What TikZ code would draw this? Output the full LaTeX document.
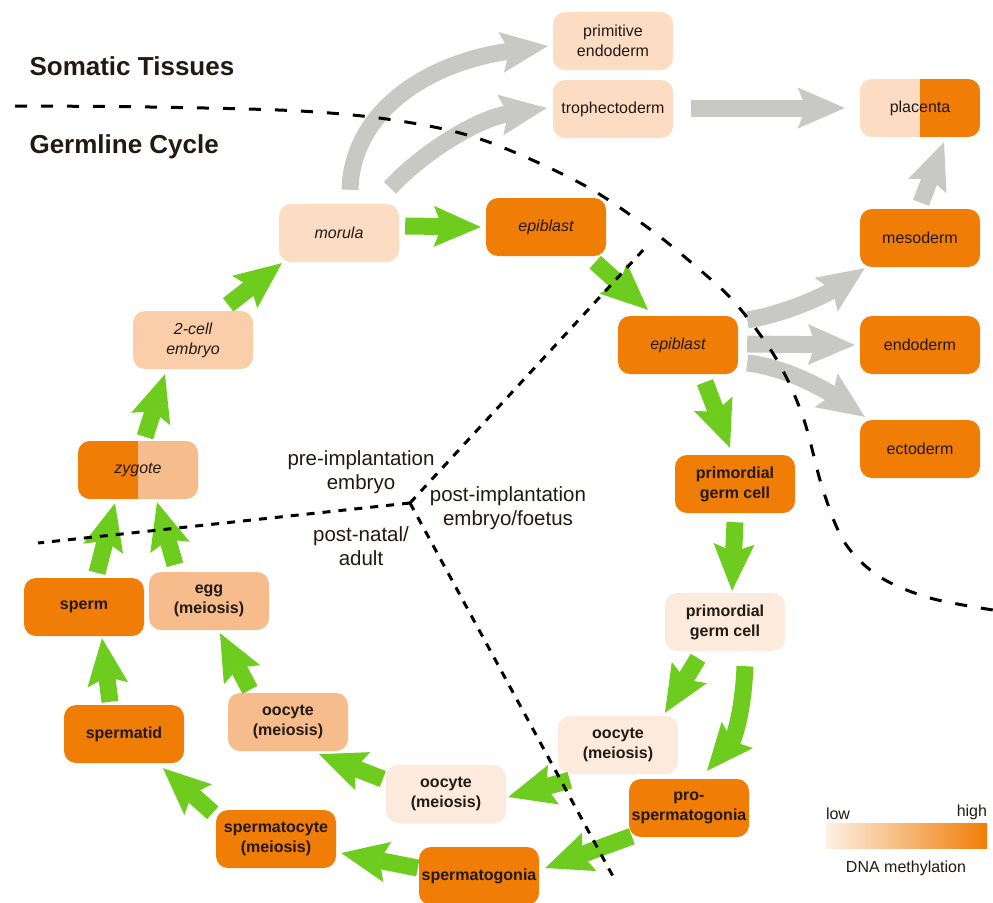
\documentclass[tikz,border=0pt]{standalone}
\usepackage{fontspec}
\setmainfont{Liberation Sans}
\usetikzlibrary{arrows.meta,calc}
\definecolor{orng}{RGB}{240,125,5}
\definecolor{pale}{RGB}{252,221,196}
\definecolor{vpale}{RGB}{252,235,220}
\definecolor{twoc}{RGB}{249,206,168}
\definecolor{med}{RGB}{246,188,140}
\definecolor{grn}{RGB}{110,204,30}
\definecolor{gry}{RGB}{200,201,197}
\definecolor{txt}{RGB}{35,25,20}
\definecolor{lowc}{RGB}{253,240,228}
\definecolor{midc}{RGB}{247,192,145}
\begin{document}
\begin{tikzpicture}[x=1pt,y=-1pt,
  box/.style={rounded corners=12pt, minimum width=120pt, minimum height=58pt, inner sep=1pt, align=center, text=txt, font=\fontsize{16}{20}\selectfont},
  ibox/.style={box, font=\fontsize{16}{20}\selectfont\itshape},
  bbox/.style={box, font=\fontsize{16}{20}\selectfont\bfseries},
  flow/.style={line width=17pt, -{Stealth[length=47pt,width=41pt,inset=8pt,line width=0pt]}},
  gflow/.style={flow, draw=grn},
  sflow/.style={flow, draw=gry},
  bigdash/.style={draw=black, line width=3pt, dash pattern=on 12pt off 14pt},
  smalldash/.style={draw=black, line width=3pt, dash pattern=on 8pt off 8pt},
  lab/.style={align=center, text=txt, font=\fontsize{20.5}{24}\selectfont},
  title/.style={anchor=west, text=txt, font=\fontsize{26}{30}\selectfont\bfseries}
]
\useasboundingbox (0,0) rectangle (993,902);

% titles
\node[title] (soma) at (26,66) {Somatic Tissues};
\node[title] (germ) at (26,147) {Germline Cycle};

% somatic nodes
\node[box, fill=pale] (prim) at (613,41) {primitive\\endoderm};
\node[box, fill=pale] (troph) at (613,109) {trophectoderm};
\node[box, fill=pale, path picture={\fill[orng, sharp corners] (path picture bounding box.north) rectangle (path picture bounding box.south east);}] (plac) at (920,108) {placenta};
\node[box, fill=orng] (meso) at (920,238) {mesoderm};
\node[box, fill=orng] (endo) at (920,345) {endoderm};
\node[box, fill=orng] (ecto) at (920,449) {ectoderm};

% germline nodes
\node[ibox, fill=pale] (mor) at (339,233) {morula};
\node[ibox, fill=orng] (epi1) at (546,227) {epiblast};
\node[ibox, fill=orng] (epi2) at (678,345) {epiblast};
\node[bbox, fill=orng] (pgc1) at (735,484) {primordial\\germ cell};
\node[bbox, fill=vpale] (pgc2) at (725,622) {primordial\\germ cell};
\node[bbox, fill=vpale] (ooR) at (618,745) {oocyte\\(meiosis)};
\node[bbox, fill=orng] (pros) at (689,808) {pro-\\spermatogonia};
\node[bbox, fill=orng] (spg) at (479,876) {spermatogonia};
\node[bbox, fill=vpale] (ooM) at (446,794) {oocyte\\(meiosis)};
\node[bbox, fill=orng] (spc) at (276,839) {spermatocyte\\(meiosis)};
\node[bbox, fill=med] (ooL) at (288,722) {oocyte\\(meiosis)};
\node[bbox, fill=orng] (sptd) at (124,734) {spermatid};
\node[bbox, fill=orng] (sperm) at (84,607) {sperm};
\node[bbox, fill=med] (egg) at (209,601) {egg\\(meiosis)};
\node[ibox, fill=med, path picture={\fill[orng, sharp corners] (path picture bounding box.south west) rectangle (path picture bounding box.north);}] (zyg) at (138,470) {zygote};
\node[ibox, fill=twoc] (two) at (193,340) {2-cell\\embryo};

% region labels
\node[lab] (pre) at (361,472) {pre-implantation\\embryo};
\node[lab] (postn) at (361,546) {post-natal/\\adult};
\node[lab] (posti) at (508,508) {post-implantation\\embryo/foetus};

% legend
\node[inner sep=0pt, minimum width=161pt, minimum height=25pt, left color=lowc, middle color=midc, right color=orng] (leg) at (906.5,835.5) {};
\node[anchor=south west, inner sep=0pt, text=txt, font=\fontsize{16}{20}\selectfont] (low) at (leg.north west) [yshift=3pt] {low};
\node[anchor=south east, inner sep=0pt, text=txt, font=\fontsize{16}{20}\selectfont] (high) at (leg.north east) [yshift=3pt] {high};
\node[text=txt, font=\fontsize{16}{20}\selectfont] (dna) at (906,868) {DNA methylation};

% grey arrows
\draw[sflow] ($(mor.north)+(11,-14)$) .. controls (352,110) and (430,62) .. ($(prim.west)+(-5,5)$);
\draw[sflow] ($(mor.north)+(51,-16)$) .. controls (425,150) and (480,118) .. ($(troph.west)+(-6,-1)$);
\draw[sflow] ($(troph.east)+(18,-1)$) -- ($(plac.west)+(-15,0)$);
\draw[sflow] ($(meso.north)+(1,-6)$) -- ($(plac.south)+(24,5)$);
\draw[sflow] ($(epi2.east)+(9,-25)$) .. controls (790,313) and (830,292) .. ($(meso.south west)+(5,1)$);
\draw[sflow] ($(epi2.east)+(9,-1)$) -- ($(endo.west)+(-5,0)$);
\draw[sflow] ($(epi2.east)+(9,18)$) .. controls (790,368) and (830,393) .. ($(ecto.north west)+(5,-3)$);

% green arrows
\draw[gflow] ($(mor.east)+(6,-7)$) -- ($(epi1.west)+(-5,0)$);
\draw[gflow] ($(epi1.south east)+(-11,6)$) -- ($(epi2.north)+(-30,-6)$);
\draw[gflow] ($(epi2.south)+(27,8)$) -- ($(pgc1.north)+(-5,-7)$);
\draw[gflow] ($(pgc1.south)+(0,9)$) -- ($(pgc2.north)+(7,-2)$);
\draw[gflow] ($(pgc2.south)+(-27,7)$) -- ($(ooR.north)+(47,-3)$);
\draw[gflow] ($(pgc2.south)+(20,15)$) .. controls (743,715) and (733,740) .. ($(pros.north)+(18,-8)$);
\draw[gflow] ($(ooR.south west)+(12,6)$) -- ($(ooM.east)+(2,3)$);
\draw[gflow] ($(pros.south west)+(3,-1)$) -- ($(spg.east)+(6,-8)$);
\draw[gflow] ($(spg.west)+(-1,-8)$) -- ($(spc.east)+(5,14)$);
\draw[gflow] ($(ooM.west)+(-3,-15)$) -- ($(ooL.south)+(31,3)$);
\draw[gflow] ($(spc.north west)+(-3,3)$) -- ($(sptd.south)+(39,5)$);
\draw[gflow] ($(ooL.north)+(-38,-3)$) -- ($(egg.south)+(11,3)$);
\draw[gflow] ($(sptd.north)+(-14,-3)$) -- ($(sperm.south)+(18,2)$);
\draw[gflow] ($(sperm.north)+(13,-5)$) -- ($(zyg.south)+(-23,4)$);
\draw[gflow] ($(egg.north)+(-34,-7)$) -- ($(zyg.south)+(19,3)$);
\draw[gflow] ($(zyg.north)+(7,-4)$) -- ($(two.south)+(-28,5)$);
\draw[gflow] ($(two.north east)+(-25,-6)$) -- ($(mor.south west)+(3,1)$);

% dashed boundaries
\draw[bigdash] plot[smooth, tension=0.55] coordinates {(15,106) (150,107) (300,111) (400,121) (483,140) (580,183) (647,227) (700,270) (737,305) (777,360) (803,417) (823,490) (845,543) (880,577) (930,598) (993,610)};
\coordinate (jn) at (410,503);
\draw[smalldash] (jn) -- (645,248);
\draw[smalldash] (jn) -- (38,543);
\draw[smalldash] (jn) -- (615,880);
\end{tikzpicture}
\end{document}
